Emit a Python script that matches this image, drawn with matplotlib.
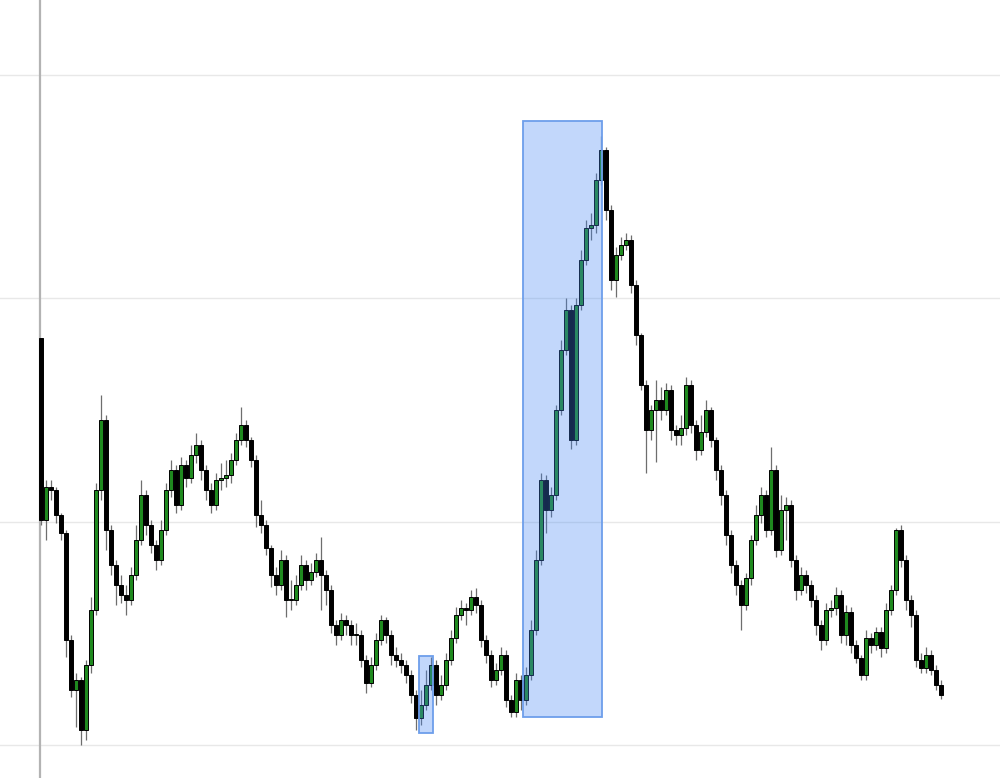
"""
Candlestick chart with two highlighted ranges.
"""

import numpy as np
import matplotlib
matplotlib.use("Agg")
import matplotlib.pyplot as plt
from matplotlib.patches import Rectangle

# OHLC values, one candle per session
opens = [
    407, 225, 258, 255, 230, 212, 105, 55, 65, 15,
    80, 135, 255, 325, 215, 180, 160, 150, 145, 170,
    205, 250, 220, 200, 185, 215, 255, 275, 240, 280,
    267, 290, 300, 275, 255, 240, 265, 267, 270, 285,
    305, 320, 305, 285, 230, 220, 197, 170, 160, 185,
    145, 145, 160, 180, 165, 173, 185, 170, 155, 120,
    110, 125, 120, 110, 110, 85, 62, 80, 105, 125,
    110, 90, 85, 80, 70, 50, 27, 40, 60, 80,
    50, 60, 85, 107, 130, 137, 135, 148, 140, 105,
    90, 65, 75, 90, 45, 33, 65, 45, 70, 115,
    185, 265, 235, 250, 335, 395, 435, 305, 440, 485,
    517, 520, 565, 595, 535, 465, 490, 500, 505, 460,
    410, 360, 315, 335, 345, 335, 355, 315, 310, 317,
    360, 320, 295, 313, 335, 305, 275, 250, 210, 180,
    160, 140, 167, 205, 230, 250, 215, 275, 195, 235,
    240, 185, 155, 170, 160, 145, 120, 105, 135, 137,
    150, 110, 133, 100, 87, 70, 107, 100, 113, 97,
    135, 155, 215, 185, 145, 130, 85, 77, 90, 75,
    60,
]
closes = [
    225, 258, 255, 230, 212, 105, 55, 65, 15, 80,
    135, 255, 325, 215, 180, 160, 150, 145, 170, 205,
    250, 220, 200, 185, 215, 255, 275, 240, 280, 267,
    290, 300, 275, 255, 240, 265, 267, 270, 285, 305,
    320, 305, 285, 230, 220, 197, 170, 160, 185, 145,
    145, 160, 180, 165, 173, 185, 170, 155, 120, 110,
    125, 120, 110, 110, 85, 62, 80, 105, 125, 110,
    90, 85, 80, 70, 50, 27, 40, 60, 80, 50,
    60, 85, 107, 130, 137, 135, 148, 140, 105, 90,
    65, 75, 90, 45, 33, 65, 45, 70, 115, 185,
    265, 235, 250, 335, 395, 435, 305, 440, 485, 517,
    520, 565, 595, 535, 465, 490, 500, 505, 460, 410,
    360, 315, 335, 345, 335, 355, 315, 310, 317, 360,
    320, 295, 313, 335, 305, 275, 250, 210, 180, 160,
    140, 167, 205, 230, 250, 215, 275, 195, 235, 240,
    185, 155, 170, 160, 145, 120, 105, 135, 137, 150,
    110, 133, 100, 87, 70, 107, 100, 113, 97, 135,
    155, 215, 185, 145, 130, 85, 77, 90, 75, 60,
    50,
]
highs = [
    407, 265, 265, 258, 232, 215, 110, 72, 68, 85,
    148, 262, 350, 330, 220, 185, 170, 160, 178, 220,
    265, 255, 225, 205, 225, 262, 285, 280, 288, 285,
    300, 312, 305, 280, 262, 272, 282, 285, 292, 312,
    338, 325, 308, 290, 245, 225, 200, 178, 195, 190,
    165, 170, 190, 185, 182, 192, 208, 175, 160, 125,
    132, 130, 125, 122, 115, 90, 88, 112, 130, 128,
    115, 98, 92, 85, 75, 55, 55, 75, 88, 85,
    70, 92, 115, 138, 145, 142, 155, 157, 145, 110,
    95, 82, 98, 95, 50, 72, 70, 78, 125, 195,
    272, 270, 258, 340, 405, 447, 440, 447, 495, 525,
    532, 572, 609, 598, 540, 498, 508, 512, 510, 465,
    412, 365, 340, 365, 358, 362, 360, 320, 330, 368,
    365, 325, 330, 345, 338, 308, 280, 255, 215, 185,
    165, 172, 210, 240, 258, 255, 298, 280, 250, 248,
    245, 190, 178, 175, 165, 150, 125, 142, 145, 158,
    155, 140, 138, 105, 90, 115, 112, 118, 118, 142,
    160, 217, 220, 190, 150, 135, 92, 98, 95, 80,
    65,
]
lows = [
    220, 205, 245, 222, 205, 88, 48, 18, 0, 5,
    72, 130, 245, 195, 170, 140, 142, 130, 140, 165,
    200, 210, 192, 175, 180, 210, 248, 232, 235, 258,
    262, 282, 265, 245, 232, 235, 255, 258, 262, 280,
    300, 298, 278, 218, 212, 190, 158, 150, 155, 128,
    135, 140, 155, 155, 160, 168, 135, 140, 112, 100,
    105, 110, 100, 100, 78, 52, 58, 75, 100, 102,
    80, 78, 72, 62, 42, 15, 20, 35, 55, 40,
    45, 55, 80, 102, 125, 120, 130, 132, 98, 82,
    58, 60, 70, 38, 28, 28, 35, 40, 65, 110,
    180, 212, 228, 245, 330, 390, 296, 300, 435, 480,
    505, 512, 560, 525, 455, 448, 485, 495, 452, 400,
    355, 272, 305, 283, 325, 330, 305, 300, 300, 310,
    312, 285, 290, 308, 298, 265, 240, 200, 172, 150,
    115, 135, 160, 200, 222, 208, 210, 188, 190, 205,
    178, 145, 150, 152, 138, 110, 95, 100, 128, 130,
    102, 100, 92, 82, 65, 65, 92, 95, 88, 92,
    130, 150, 178, 135, 118, 78, 72, 72, 70, 55,
    46,
]

# highlighted ranges: (first candle, last candle, low, high)
highlight_start = [75.6, 96.4]
highlight_end = [78.4, 112.2]
highlight_low = [12, 28]
highlight_high = [89, 624]

grid_levels = [0, 223, 447, 670]


def draw_candles(ax, o, h, l, c):
    """Draw wicks and bodies."""
    x = np.arange(len(c))
    o = np.array(o)
    c = np.array(c)
    ax.vlines(x, l, h, color="#6e6e6e", linewidth=0.9, zorder=2)
    up = c >= o
    body = np.where(np.abs(c - o) < 1.5, 1.5, c - o)
    ax.bar(x[up], body[up], bottom=o[up], width=0.8, color="#1f8a1f",
           edgecolor="black", linewidth=0.7, zorder=3)
    ax.bar(x[~up], body[~up], bottom=o[~up], width=0.8, color="black",
           edgecolor="black", linewidth=0.7, zorder=3)


def main():
    fig = plt.figure(figsize=(10, 7.78), dpi=100)
    ax = fig.add_axes([0, 0, 1, 1])

    for level in grid_levels:
        ax.axhline(level, color="#e8e8e8", linewidth=1.0, zorder=0)
    ax.axvline(-0.25, color="#b3b3b3", linewidth=1.6, zorder=1)

    draw_candles(ax, opens, highs, lows, closes)

    for x0, x1, y0, y1 in zip(highlight_start, highlight_end,
                              highlight_low, highlight_high):
        ax.add_patch(Rectangle((x0, y0), x1 - x0, y1 - y0,
                               facecolor="#4285f4", alpha=0.32,
                               edgecolor="none", zorder=4))
        ax.add_patch(Rectangle((x0, y0), x1 - x0, y1 - y0,
                               facecolor="none", edgecolor="#6d9eeb",
                               linewidth=1.3, zorder=5))

    ax.set_xlim(-8.2, 191.8)
    ax.set_ylim(-33, 745)
    ax.axis("off")

    fig.savefig("out.png", dpi=100)


if __name__ == "__main__":
    main()
